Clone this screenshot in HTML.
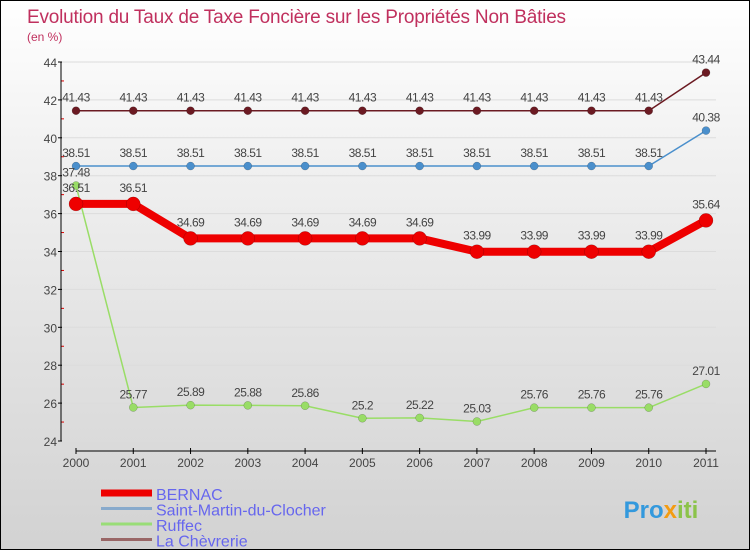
<!DOCTYPE html>
<html><head><meta charset="utf-8"><style>
body{margin:0}
#c{width:750px;height:550px;position:relative;box-sizing:border-box;border:1px solid #000;background:linear-gradient(#fff,#f0f0f0 30%,#d2d2d2);font-family:"Liberation Sans",sans-serif;overflow:hidden}
</style></head><body>
<div id="c">
<svg id="s" width="750" height="550" style="position:absolute;left:0;top:0">
<text x="26" y="22" font-size="19" letter-spacing="-0.2" fill="#c0305e">Evolution du Taux de Taxe Foncière sur les Propriétés Non Bâties</text>
<text x="26" y="40" font-size="12" fill="#c0305e">(en %)</text>
<g id="g"></g>
<text x="660" y="517" font-size="24" font-weight="bold" fill="#3399dd" text-anchor="middle">Pro<tspan fill="#f39c12">x</tspan><tspan fill="#8bc34a">iti</tspan></text>
</svg>
</div>
<script>
const years=["2000","2001","2002","2003","2004","2005","2006","2007","2008","2009","2010","2011"];
const bernac=[36.51,36.51,34.69,34.69,34.69,34.69,34.69,33.99,33.99,33.99,33.99,35.64];
const stMartin=[38.51,38.51,38.51,38.51,38.51,38.51,38.51,38.51,38.51,38.51,38.51,40.38];
const ruffec=[37.48,25.77,25.89,25.88,25.86,25.2,25.22,25.03,25.76,25.76,25.76,27.01];
const chevrerie=[41.43,41.43,41.43,41.43,41.43,41.43,41.43,41.43,41.43,41.43,41.43,43.44];
const yTicks=[24,26,28,30,32,34,36,38,40,42,44];
const bernacLabels=["36.51","36.51","34.69","34.69","34.69","34.69","34.69","33.99","33.99","33.99","33.99","35.64"];
const NS="http://www.w3.org/2000/svg",g=document.getElementById('g');
const X=i=>75+i*(630/11), Y=v=>440-(v-24)*(379/20);
function el(t,a,p){const e=document.createElementNS(NS,t);for(const k in a)e.setAttribute(k,a[k]);(p||g).appendChild(e);return e;}
yTicks.forEach(v=>{
 const l=el('line',{x1:60,x2:715,y1:Y(v),y2:Y(v),stroke:'#dcdcdc'});
 
 
 const t=el('text',{x:56,y:Y(v)+5,'font-size':12,fill:'#444','text-anchor':'end'});t.textContent=v;
 
 
 el('line',{x1:57,x2:61,y1:Y(v),y2:Y(v),stroke:'#000'});
 if(v<44){el('line',{x1:60,x2:63,y1:Y(v+1),y2:Y(v+1),stroke:'#d00'});}
});
el('line',{x1:60,x2:60,y1:61,y2:440,stroke:'#000'});
el('line',{x1:75,x2:715,y1:450,y2:450,stroke:'#000'});
years.forEach((y,i)=>{
 el('line',{x1:X(i),x2:X(i),y1:447,y2:453,stroke:'#000'});
 const t=el('text',{x:X(i),y:466,'font-size':12,fill:'#444','text-anchor':'middle'});t.textContent=y;
 
 
});
function series(d,col,w,r,name,labels,dy){
 const p=el('polyline',{points:d.map((v,i)=>X(i)+','+Y(v)).join(' '),fill:'none',stroke:col,'stroke-width':w,'stroke-linejoin':'round'});
 
 
 d.forEach((v,i)=>{
  const c=el('circle',{cx:X(i),cy:Y(v),r:r,fill:col,stroke:'rgba(0,0,0,0.3)','stroke-width':0.5});
  
  
  const t=el('text',{x:X(i),y:Y(v)+dy,'font-size':12,fill:'#444','text-anchor':'middle','letter-spacing':'-0.5'});
  t.textContent=labels?labels[i]:String(v);
  
  
 });
}
series(chevrerie,'#6b1a22',1.5,4,'la-chevrerie',null,-9);
series(stMartin,'#4a8fcc',1.5,4,'saint-martin',null,-9);
series(ruffec,'#99dd66',1.5,4,'ruffec',null,-9);
series(bernac,'#ee0000',8,7,'bernac',bernacLabels,-12);
const leg=[["BERNAC","#ee0000",7],["Saint-Martin-du-Clocher","#88aacc",3],["Ruffec","#99dd77",3],["La Chèvrerie","#996666",3]];
leg.forEach((L,i)=>{
 const y=492+i*15.5;
 const l=el('line',{x1:100,x2:151,y1:y,y2:y,stroke:L[1],'stroke-width':L[2]});
 
 
 const t=el('text',{x:155,y:y+7,'font-size':16,fill:'#6666ee'});t.textContent=L[0];
 
 
});
</script>
</body></html>
